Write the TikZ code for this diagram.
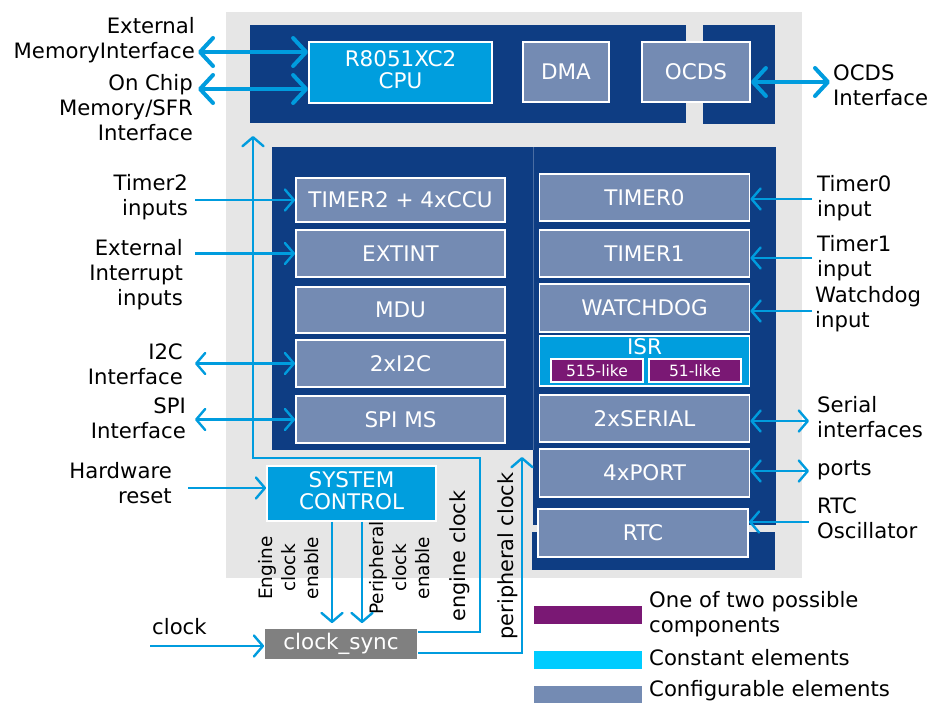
\documentclass[tikz,border=0pt]{standalone}
\usepackage{fontspec}
\setmainfont{DejaVu Sans}
\usetikzlibrary{arrows.meta}
\definecolor{panelblue}{RGB}{14,61,131}
\definecolor{confblue}{RGB}{116,139,179}
\definecolor{constblue}{RGB}{0,158,222}
\definecolor{optpurple}{RGB}{122,24,116}
\definecolor{legcyan}{RGB}{0,204,255}
\definecolor{bggrey}{RGB}{230,230,230}
\definecolor{syncgrey}{RGB}{128,128,128}
\definecolor{arrowblue}{RGB}{0,156,222}
\newcommand{\boxfont}{\fontsize{21.5}{25}\selectfont}
\newcommand{\lblfont}{\fontsize{21.2}{25}\selectfont}
\newcommand{\subfont}{\fontsize{15.5}{18}\selectfont}
\newcommand{\enfont}{\fontsize{18.5}{23}\selectfont}
\newcommand{\clkfont}{\fontsize{20.8}{24}\selectfont}

\begin{document}
\begin{tikzpicture}[x=1pt,y=-1pt,
	box/.style={draw=white,line width=1.8pt,text=white,inner sep=0pt,font=\boxfont},
	conf/.style={box,fill=confblue},
	const/.style={box,fill=constblue},
	opt/.style={box,fill=optpurple,line width=1.2pt,font=\subfont,minimum width=92,minimum height=23},
	lbl/.style={font=\lblfont,inner sep=3pt},
	arr/.style={draw=arrowblue,line width=2.4pt,>={Straight Barb[length=9pt,width=21pt,round]}},
	bigarr/.style={draw=arrowblue,line width=4pt,>={Straight Barb[length=13pt,width=28pt,round]}}]
			\useasboundingbox (0,0) rectangle (944,702);
			\fill[bggrey] (226,12) rectangle (802,578);
			\fill[panelblue] (250,25) rectangle (686,123);
			\fill[panelblue] (703,25) rectangle (775,124);
			\fill[panelblue] (272,147) rectangle (533,450);
			\fill[panelblue] (533,147) rectangle (776,525);
			\fill[panelblue] (532,532) rectangle (775,570);
			\draw[panelblue!75!white,line width=0.6pt] (533,147) -- (533,450);
			\node[const,minimum width=183,minimum height=61] (cpu) at (400.5,72.5) {\begin{tabular}{c}R8051XC2\\[-3pt]CPU\end{tabular}};
			\node[conf,minimum width=86,minimum height=60] (dma) at (566,72) {DMA};
			\node[conf,minimum width=108,minimum height=60] (ocds) at (696,72) {OCDS};
			\node[conf,minimum width=209,minimum height=44] (timer2) at (400.5,200) {TIMER2 + 4xCCU};
			\node[conf,minimum width=209,minimum height=47] (extint) at (400.5,253.5) {EXTINT};
			\node[conf,minimum width=209,minimum height=46] (mdu) at (400.5,310) {MDU};
			\node[conf,minimum width=209,minimum height=47] (i2c) at (400.5,363.5) {2xI2C};
			\node[conf,minimum width=209,minimum height=47] (spi) at (400.5,419.5) {SPI MS};
			\node[conf,minimum width=210,minimum height=47] (timer0) at (644.5,197.5) {TIMER0};
			\node[conf,minimum width=210,minimum height=47] (timer1) at (644.5,253.5) {TIMER1};
			\node[conf,minimum width=210,minimum height=48] (wdog) at (644.5,308) {WATCHDOG};
			\node[const,minimum width=210,minimum height=50] (isr) at (644.5,361) {};
			\node[text=white,font=\boxfont,inner sep=0pt] (isrname) at (644.5,347) {ISR};
			\node[opt] (isra) at (597,370.5) {515-like};
			\node[opt] (isrb) at (695,370.5) {51-like};
			\node[conf,minimum width=210,minimum height=47] (serial) at (644.5,418.5) {2xSERIAL};
			\node[conf,minimum width=210,minimum height=48] (port) at (644.5,473) {4xPORT};
			\node[conf,minimum width=210,minimum height=48] (rtc) at (643,533) {RTC};
			\node[const,minimum width=169,minimum height=55] (sysctl) at (351.5,493.5) {\begin{tabular}{c}SYSTEM\\[-3pt]CONTROL\end{tabular}};
			\node[box,draw=none,fill=syncgrey,minimum width=152,minimum height=30] (sync) at (341,644) {clock\_sync};
			\node[lbl,anchor=east,align=right] (extmem) at (198,40) {External\\MemoryInterface};
			\node[lbl,anchor=east,align=right] (onchip) at (196,108) {On Chip\\Memory/SFR\\Interface};
			\node[lbl,anchor=east,align=right] (t2in) at (191,197) {Timer2\\inputs};
			\node[lbl,anchor=east,align=right] (extin) at (186,275) {External\\Interrupt\\inputs};
			\node[lbl,anchor=east,align=right] (i2cif) at (186,364) {I2C\\Interface};
			\node[lbl,anchor=east,align=right] (spiif) at (189,418) {SPI\\Interface};
			\node[lbl,anchor=east,align=right] (hwrst) at (175,483) {Hardware\\reset};
			\node[lbl,anchor=west] (clk) at (149,627) {clock};
			\node[lbl,anchor=west,align=left] (ocdsif) at (830,85) {OCDS\\Interface};
			\node[lbl,anchor=west,align=left] (t0in) at (814,198) {Timer0\\input};
			\node[lbl,anchor=west,align=left] (t1in) at (814,258) {Timer1\\input};
			\node[lbl,anchor=west,align=left] (wdin) at (812,309.5) {Watchdog\\input};
			\node[lbl,anchor=west,align=left] (serif) at (814,417) {Serial\\interfaces};
			\node[lbl,anchor=west] (portl) at (814,470) {ports};
			\node[lbl,anchor=west,align=left] (rtcosc) at (814,518) {RTC\\Oscillator};
			\node[font=\enfont,align=center,rotate=90,inner sep=0pt] (ecen) at (289,568) {Engine\\clock\\enable};
			\node[font=\enfont,align=center,rotate=90,inner sep=0pt] (pcen) at (400,568) {Peripheral\\clock\\enable};
			\node[font=\clkfont,rotate=90,inner sep=0pt] (engclk) at (460,556) {engine clock};
			\node[font=\clkfont,rotate=90,inner sep=0pt] (perclk) at (508,556) {peripheral clock};
			\coordinate (emsrc) at (198,52);
			\coordinate (ocsrc) at (198,89);
			\coordinate (dbgsrc) at (830,82);
			\coordinate (t2src) at (195,200);
			\coordinate (eisrc) at (195,253.5);
			\coordinate (i2csrc) at (195,363.5);
			\coordinate (spisrc) at (195,419.5);
			\coordinate (t0src) at (812,199);
			\coordinate (t1src) at (812,258);
			\coordinate (wdsrc) at (812,311);
			\coordinate (sersrc) at (809,421);
			\coordinate (portsrc) at (809,471);
			\coordinate (rtcsrc) at (809,522);
			\coordinate (rstsrc) at (188,488);
			\coordinate (clksrc) at (150,646);
			\coordinate (ecline) at (332,600);
			\coordinate (pcline) at (362,600);
			\coordinate (engcorner) at (480,632);
			\coordinate (engtop) at (480,458);
			\coordinate (engtip) at (253,136);
			\coordinate (perrow) at (522,653);
			\coordinate (pertip) at (522,457);
			\draw[bigarr,<->] (emsrc) -- (cpu.west |- emsrc);
			\draw[bigarr,<->] (ocsrc) -- (cpu.west |- ocsrc);
			\draw[bigarr,<->] (ocds.east |- dbgsrc) -- (dbgsrc);
			\draw[arr,->] (t2src) -- (timer2.west);
			\draw[arr,->] (eisrc) -- (extint.west);
			\draw[arr,<->] (i2csrc) -- (i2c.west);
			\draw[arr,<->] (spisrc) -- (spi.west);
			\draw[arr,->] (t0src) -- (timer0.east |- t0src);
			\draw[arr,->] (t1src) -- (timer1.east |- t1src);
			\draw[arr,->] (wdsrc) -- (wdog.east |- wdsrc);
			\draw[arr,<->] (serial.east |- sersrc) -- (sersrc);
			\draw[arr,<->] (port.east |- portsrc) -- (portsrc);
			\draw[arr,->] (rtcsrc) -- (rtc.east |- rtcsrc);
			\draw[arr,->] (rstsrc) -- (sysctl.west |- rstsrc);
			\draw[arr,->] (clksrc) -- (sync.west |- clksrc);
			\draw[arr,->,shorten >=5pt] (sysctl.south -| ecline) -- (sync.north -| ecline);
			\draw[arr,->,shorten >=5pt] (sysctl.south -| pcline) -- (sync.north -| pcline);
			\draw[arr,->] (sync.east |- engcorner) -- (engcorner) -- (engtop) -| (engtip);
			\draw[arr,->] (sync.east |- perrow) -| (pertip);
			\fill[optpurple] (534,606) rectangle (642,624);
			\fill[legcyan] (534,651) rectangle (642,669);
			\fill[confblue] (534,686) rectangle (642,704);
			\node[lbl,anchor=west,align=left] (legopt) at (646,614.5) {One of two possible\\components};
			\node[lbl,anchor=west] (legconst) at (646,658) {Constant elements};
			\node[lbl,anchor=base west] (legconf) at (646,696) {Configurable elements};
		\end{tikzpicture}
\end{document}
